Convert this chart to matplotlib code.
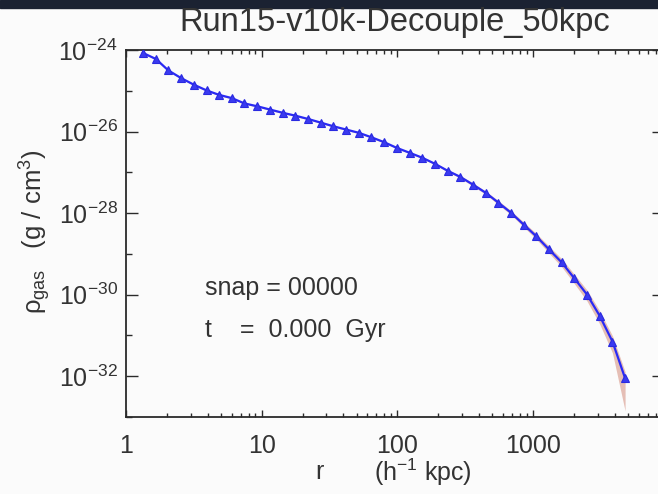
import matplotlib
matplotlib.use("Agg")
import matplotlib.pyplot as plt
from matplotlib.ticker import FixedLocator, NullFormatter
from matplotlib.patches import Rectangle

plt.rcParams['font.family'] = ['Liberation Sans', 'DejaVu Sans']
plt.rcParams['mathtext.fontset'] = 'custom'
plt.rcParams['mathtext.rm'] = 'Liberation Sans'
plt.rcParams['mathtext.it'] = 'Liberation Sans'

# ---- data ----
r_kpc = [1.33, 1.66, 2.05, 2.55, 3.16, 3.92, 4.85, 6.03, 7.46, 9.27,
         11.5, 14.3, 17.7, 21.9, 27.2, 33.7, 41.8, 51.9, 64.3, 79.8,
         98.9, 123, 152, 189, 234, 290, 360, 447, 553, 687,
         851, 1057, 1309, 1626, 2014, 2500, 3097, 3846, 4764]
log_rho = [-24.07, -24.22, -24.50, -24.69, -24.85, -24.99, -25.10, -25.18, -25.31, -25.38,
           -25.46, -25.54, -25.61, -25.69, -25.78, -25.87, -25.95, -26.03, -26.14, -26.26,
           -26.40, -26.52, -26.64, -26.79, -26.96, -27.11, -27.30, -27.50, -27.74, -27.99,
           -28.28, -28.57, -28.89, -29.21, -29.60, -30.00, -30.52, -31.15, -32.05]
spread_hi = [0.02] * 24 + [0.03, 0.03, 0.04, 0.04, 0.05, 0.05,
                           0.06, 0.07, 0.08, 0.09, 0.10, 0.11, 0.12, 0.14, 0.16]
spread_lo = [0.02] * 24 + [0.03, 0.03, 0.04, 0.04, 0.05, 0.05,
                           0.06, 0.07, 0.09, 0.11, 0.13, 0.16, 0.20, 0.28, 0.80]

title = "Run15-v10k-Decouple_50kpc"
snap_text = "snap = 00000"
time_text = "t    =  0.000  Gyr"
x_major = [1, 10, 100, 1000]
x_major_labels = ["1", "10", "100", "1000"]
y_major_exp = [-24, -26, -28, -30, -32]
y_minor_exp = [-25, -27, -29, -31, -33]

rho = [10.0 ** v for v in log_rho]
rho_hi = [10.0 ** (v + s) for v, s in zip(log_rho, spread_hi)]
rho_lo = [10.0 ** (v - s) for v, s in zip(log_rho, spread_lo)]

W, H = 658, 494
fig = plt.figure(figsize=(W / 100, H / 100), dpi=100)
fig.patch.set_facecolor('#fbfbfb')
fig.add_artist(Rectangle((0, 1 - 8 / H), 1, 8 / H, transform=fig.transFigure,
                         color='#1b2232', zorder=0))

left, right, top, bottom = 126, 664, 50, 417
ax = fig.add_axes([left / W, (H - bottom) / H, (right - left) / W, (bottom - top) / H])
ax.set_facecolor('#fbfbfb')
ax.set_xscale('log')
ax.set_yscale('log')
ax.set_xlim(1, 10 ** ((right - left) / 135.7))
ax.set_ylim(1e-33, 1e-24)

ax.fill_between(r_kpc, rho_lo, rho_hi, color='#deaa9e', alpha=0.75, lw=0, zorder=2)
ax.plot(r_kpc, rho, color='#2a2af5', lw=1.6, marker='^', ms=6.0,
        mfc='#3a3af0', mec='#2a2ae0', mew=0.8, zorder=3)

ax.xaxis.set_major_locator(FixedLocator(x_major))
ax.set_xticklabels(x_major_labels)
xminor = [m * 10 ** d for d in range(0, 4) for m in range(2, 10)]
ax.xaxis.set_minor_locator(FixedLocator(xminor))
ax.xaxis.set_minor_formatter(NullFormatter())

ax.yaxis.set_major_locator(FixedLocator([10.0 ** e for e in y_major_exp]))
ax.set_yticklabels([r"$\mathregular{10^{%d}}$" % e for e in y_major_exp])
ax.yaxis.set_minor_locator(FixedLocator([10.0 ** e for e in y_minor_exp]))
ax.yaxis.set_minor_formatter(NullFormatter())

tc = '#2a2a2a'
for s in ax.spines.values():
    s.set_color(tc)
    s.set_linewidth(1.3)
ax.tick_params(axis='both', which='both', direction='in', top=True, right=True,
               colors=tc, labelcolor='#333333', width=1.0)
ax.tick_params(axis='x', which='major', length=5, labelsize=18, pad=12)
ax.tick_params(axis='x', which='minor', length=3)
ax.tick_params(axis='y', which='major', length=8.5, labelsize=18, pad=6)
ax.tick_params(axis='y', which='minor', length=4.5)

fig.text(395 / W, 1 - 23 / H, title, ha='center', va='center', fontsize=23.5, color='#333333')
fig.text(205 / W, 1 - 288 / H, snap_text, ha='left', va='center', fontsize=18, color='#333333')
fig.text(205 / W, 1 - 330 / H, time_text, ha='left', va='center', fontsize=18, color='#333333')

fig.text(319 / W, 1 - 472 / H, "r", ha='center', va='center', fontsize=18, color='#333333')
fig.text(423 / W, 1 - 472 / H, r"(h$^{\mathregular{-1}}$ kpc)", ha='center', va='center',
         fontsize=18, color='#333333')
fig.text(35 / W, 1 - 232 / H, r"$\rho_{\mathregular{gas}}$   (g / cm$^{\mathregular{3}}$)",
         rotation=90, ha='center', va='center', fontsize=18.5, color='#333333')

fig.savefig("out.png", dpi=100, facecolor=fig.get_facecolor())
